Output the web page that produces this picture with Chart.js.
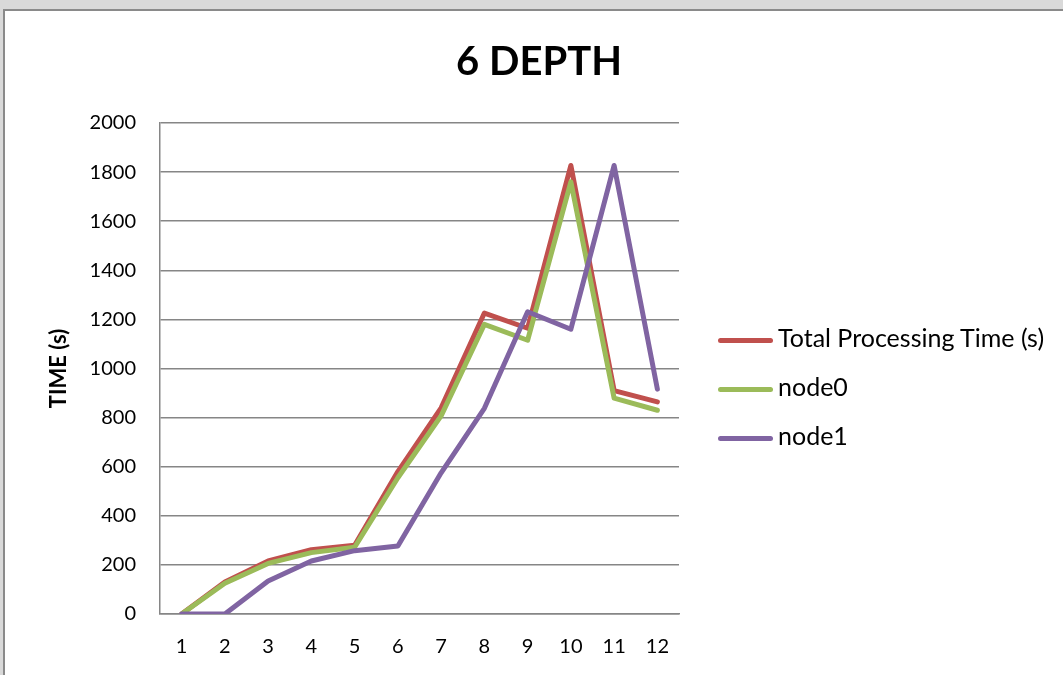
<!DOCTYPE html>
<html>
<head>
<meta charset="utf-8">
<script src="https://cdn.jsdelivr.net/npm/chart.js@4.4.0/dist/chart.umd.min.js"></script>
<style>
  html, body { margin: 0; padding: 0; background: #d9d9d9; overflow: hidden; }
  #frame { position: absolute; left: 3px; top: 9px; right: 0; bottom: 0; background: #fff;
           border-left: 2px solid #8a8a8a; border-top: 2px solid #8a8a8a; }
  #myChart { position: absolute; left: 0; top: 0; }
  #legend { position: absolute; left: 718px; top: 313px; margin: 0; padding: 0; list-style: none;
            font-family: Lato; font-size: 25px; color: #000; }
  #legend li { height: 49px; line-height: 49px; white-space: nowrap; }
  #legend .swatch { display: inline-block; width: 55px; height: 5px; border-radius: 3px;
                    vertical-align: middle; margin-right: 5px; }
</style>
</head>
<body>
<div id="frame"></div>
<canvas id="myChart" width="1063" height="675"></canvas>
<ul id="legend"></ul>
<script>
// values
const depths = ['1', '2', '3', '4', '5', '6', '7', '8', '9', '10', '11', '12']
const totalTime = [0, 130, 216, 262, 280, 580, 840, 1226, 1164, 1827, 910, 864]
const node0 = [0, 125, 206, 250, 272, 555, 807, 1180, 1115, 1760, 879, 830]
const node1 = [0, 0, 134, 216, 258, 277, 575, 838, 1231, 1160, 1827, 916]

const fontName = 'Lato'
const gridGrey = '#868686'

function lineSet(label, data, colour, order) {
    return {
        label: label,
        data: data,
        borderColor: colour,
        backgroundColor: colour,
        borderWidth: 5,
        borderJoinStyle: 'round',
        borderCapStyle: 'round',
        pointRadius: 0,
        tension: 0,
        order: order
    }
}

// legend as html list, filled from the chart's own legend items
const htmlLegend = {
    id: 'htmlLegend',
    afterUpdate(chart) {
        const ul = document.getElementById('legend')
        ul.innerHTML = ''
        const items = chart.options.plugins.legend.labels.generateLabels(chart)
        items.sort((a, b) => a.datasetIndex - b.datasetIndex)
        items.forEach(item => {
            const li = document.createElement('li')
            const swatch = document.createElement('span')
            swatch.className = 'swatch'
            swatch.style.background = item.strokeStyle
            li.append(swatch)
            li.append(document.createTextNode(item.text))
            ul.append(li)
        })
    }
}

const ctx = document.getElementById('myChart')
const myChart = new Chart(ctx, {
    type: 'line',
    data: {
        labels: depths,
        datasets: [
            lineSet('Total Processing Time (s)', totalTime, '#C0504D', 3),
            lineSet('node0', node0, '#9BBB59', 2),
            lineSet('node1', node1, '#8064A2', 1)
        ]
    },
    options: {
        responsive: false,
        animation: false,
        layout: { padding: { left: 15, right: 0, top: 0, bottom: 0 } },
        plugins: {
            title: {
                display: true,
                text: '6 DEPTH',
                color: '#000',
                font: { family: fontName, size: 40, weight: 'bold' },
                padding: { top: 38, bottom: 37 }
            },
            legend: { display: false },
            tooltip: { enabled: false }
        },
        scales: {
            x: {
                offset: true,
                grid: { display: false, drawTicks: false },
                border: { display: true, color: gridGrey, width: 1.5 },
                ticks: { color: '#000', padding: 21, font: { family: fontName, size: 20 } },
                afterFit: function(scale) { scale.height = 61 }
            },
            y: {
                min: 0,
                max: 2000,
                ticks: {
                    stepSize: 200,
                    color: '#000',
                    padding: 24,
                    font: { family: fontName, size: 20 },
                    callback: value => String(value)
                },
                grid: { color: gridGrey, lineWidth: 1.5, drawTicks: false },
                border: { display: true, color: gridGrey, width: 1.5 },
                title: {
                    display: true,
                    text: 'TIME (s)',
                    color: '#000',
                    font: { family: fontName, size: 22, weight: 'bold' },
                    padding: { top: 31, bottom: 0 }
                },
                afterFit: function(scale) { scale.width = 145 }
            },
            // empty axis that keeps room free for the legend on the right
            legendSpace: {
                type: 'linear',
                position: 'right',
                grid: { display: false, drawTicks: false },
                border: { display: false },
                ticks: { display: false },
                afterFit: function(scale) { scale.width = 384 }
            }
        }
    },
    plugins: [htmlLegend]
})
</script>
</body>
</html>
